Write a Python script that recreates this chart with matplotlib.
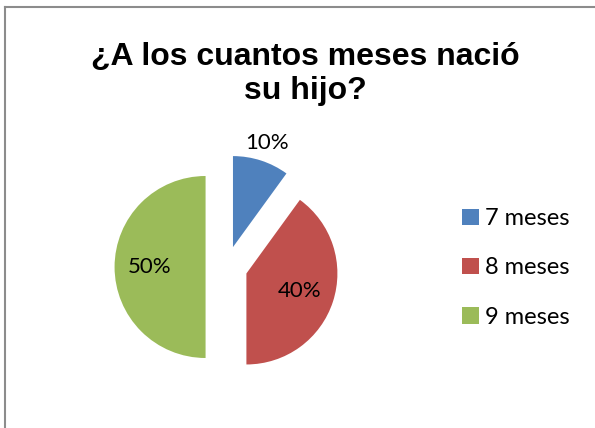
import numpy as np
import matplotlib
matplotlib.use("Agg")
import matplotlib.pyplot as plt
from matplotlib.patches import Patch
from matplotlib.lines import Line2D

categories = ["7 meses", "8 meses", "9 meses"]
values = [10, 40, 50]
colors = ["#4F81BD", "#C0504D", "#9BBB59"]
title = "¿A los cuantos meses nació\nsu hijo?"

W, H = 595, 428
fig = plt.figure(figsize=(W / 100, H / 100), dpi=100)
fig.patch.set_facecolor("white")

# frame (left and top edges visible)
fig.add_artist(Line2D([5 / W, 5 / W], [0, 1 - 7 / H], color="#8c8c8c", lw=1.5))
fig.add_artist(Line2D([5 / W, 1], [1 - 7 / H, 1 - 7 / H], color="#8c8c8c", lw=1.5))

# pie axes: center (226.5, 267) px, radius 91 px
lim = 1.3
cx, cy, r = 226.5, 267, 91
side = 2 * lim * r
ax = fig.add_axes([(cx - side / 2) / W, (H - cy - side / 2) / H, side / W, side / H])
wedges, texts, autotexts = ax.pie(
    values, colors=colors, startangle=90, counterclock=False,
    explode=[0.23, 0.23, 0.23], autopct="%1.0f%%", pctdistance=0.62,
    textprops=dict(fontsize=16, family="Lato", color="black"),
    wedgeprops=dict(linewidth=0))
ax.set_xlim(-lim, lim)
ax.set_ylim(-lim, lim)
ax.set_aspect("equal")
ax.axis("off")

# first label outside its slice
w = wedges[0]
mid = np.deg2rad((w.theta1 + w.theta2) / 2)
autotexts[0].set_position((w.center[0] + 1.2 * w.r * np.cos(mid),
                           w.center[1] + 1.2 * w.r * np.sin(mid)))

fig.text(305 / W, 1 - 74 / H, title, ha="center", va="center",
         fontsize=23, fontweight="bold", family="Liberation Sans",
         linespacing=1.2)

handles = [Patch(facecolor=c, edgecolor="none") for c in colors]
leg = fig.legend(handles, categories, loc="center left",
                 bbox_to_anchor=(441 / W, 1 - 268 / H), frameon=False,
                 prop=dict(family="Lato", size=17),
                 handlelength=0.7, handleheight=0.7, handletextpad=0.25,
                 labelspacing=1.2)

fig.savefig("out.png", dpi=100, facecolor="white")
